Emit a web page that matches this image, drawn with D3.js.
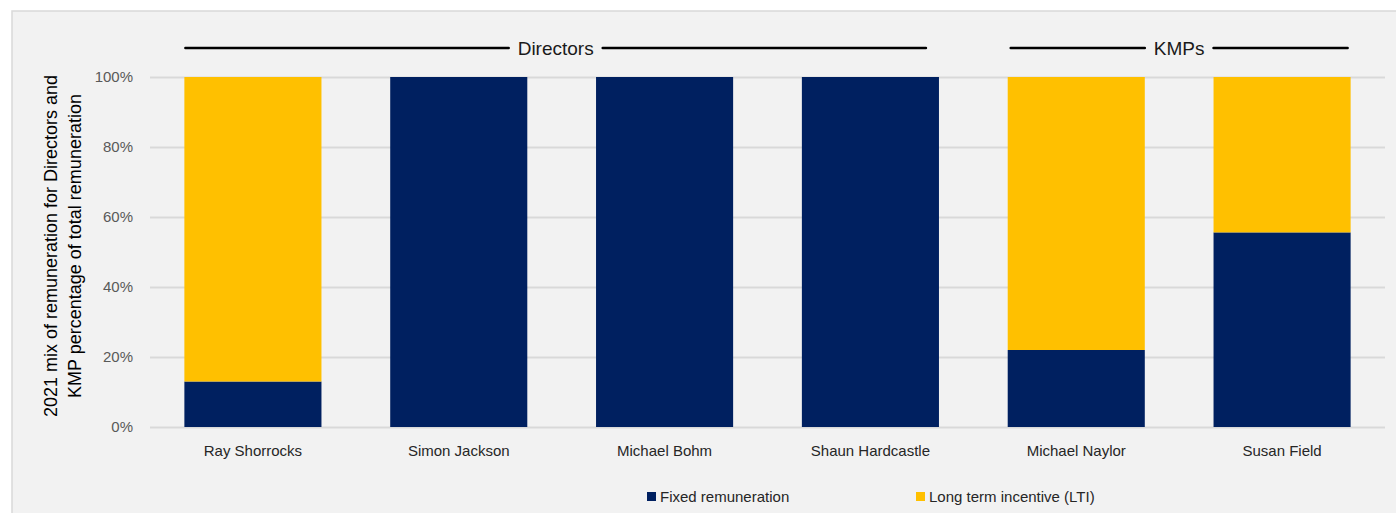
<!DOCTYPE html>
<head>
<meta charset="utf-8">
<script src="https://d3js.org/d3.v7.min.js"></script>
<style>
body { margin: 0; background: #ffffff; }
text { font-family: "Liberation Sans", Arial, sans-serif; }
.tick text { fill: #595959; font-size: 15px; }
.tick line { stroke: #d9d9d9; stroke-width: 2; }
path.domain { display: none; }
text.yTitle { font-size: 18px; fill: #000; }
text.group { font-size: 19px; fill: #1a1a1a; }
text.legend { font-size: 15px; fill: #262626; }
</style>
</head>
<body>
<script>
const width = 1396, height = 513;

const people = ["Ray Shorrocks", "Simon Jackson", "Michael Bohm", "Shaun Hardcastle", "Michael Naylor", "Susan Field"];
const fixedPct = [13, 100, 100, 100, 22, 55.6];
const ltiPct   = [87, 0, 0, 0, 78, 44.4];
const seriesNames = ["Fixed remuneration", "Long term incentive (LTI)"];
const colours = ["#002060", "#FFC000"];
const yTicks = [0, 20, 40, 60, 80, 100];
const groups = [
  {name: "Directors", from: "Ray Shorrocks", to: "Shaun Hardcastle"},
  {name: "KMPs", from: "Michael Naylor", to: "Susan Field"}
];

const svg = d3.select("body").append("svg")
  .attr("width", width)
  .attr("height", height);

// chart area background
svg.append("rect")
  .attr("x", 12).attr("y", 11)
  .attr("width", width - 10).attr("height", height)
  .attr("fill", "#f2f2f2")
  .attr("stroke", "#d9d9d9")
  .attr("stroke-width", 1.5);

const margin = {top: 77, right: 11, bottom: 86, left: 150};

const x = d3.scaleBand()
  .domain(people)
  .range([margin.left, width - margin.right])
  .paddingInner(0.334)
  .paddingOuter(0.167);

const y = d3.scaleLinear()
  .domain([0, 100])
  .range([height - margin.bottom, margin.top]);

svg.append("g")
  .attr("class", "axis yAxis")
  .attr("transform", `translate(${margin.left},0)`)
  .call(d3.axisLeft(y)
    .tickValues(yTicks)
    .tickSize(-(width - margin.right - margin.left))
    .tickPadding(17)
    .tickFormat(d => d + "%"));

const rows = people.map((p, i) => ({name: p, fixed: fixedPct[i], lti: ltiPct[i]}));
const stacked = d3.stack().keys(["fixed", "lti"])(rows);

svg.append("g").selectAll("g")
  .data(stacked)
  .join("g")
  .attr("fill", (d, i) => colours[i])
  .selectAll("rect")
  .data(d => d.filter(s => s[1] - s[0] > 0))
  .join("rect")
  .attr("x", d => x(d.data.name))
  .attr("width", x.bandwidth())
  .attr("y", d => y(d[1]))
  .attr("height", d => y(d[0]) - y(d[1]));

// category labels
svg.append("g").selectAll("text")
  .data(people)
  .join("text")
  .attr("x", d => x(d) + x.bandwidth() / 2)
  .attr("y", y(0) + 29)
  .attr("text-anchor", "middle")
  .attr("fill", "#262626")
  .style("font-size", "15px")
  .text(d => d);

// group brackets (hand-drawn in the original, so a bit inset)
const groupY = 48;
const insets = [[1, 13], [3, 3]];
groups.forEach((g, gi) => {
  const x0 = x(g.from) + insets[gi][0], x1 = x(g.to) + x.bandwidth() - insets[gi][1];
  const cx = (x0 + x1) / 2;
  const t = svg.append("text")
    .attr("class", "group")
    .attr("x", cx)
    .attr("y", groupY + 7)
    .attr("text-anchor", "middle")
    .text(g.name);
  const w = t.node().getComputedTextLength();
  const gap = 9;
  [[x0, cx - w / 2 - gap], [cx + w / 2 + gap, x1]].forEach(seg => {
    svg.append("line")
      .attr("x1", seg[0]).attr("x2", seg[1])
      .attr("y1", groupY).attr("y2", groupY)
      .attr("stroke", "#000")
      .attr("stroke-width", 2.5)
      .attr("stroke-linecap", "round");
  });
});

// y title
const yt = svg.append("text")
  .attr("class", "yTitle")
  .attr("transform", `translate(57, ${(y(0) + y(100)) / 2 - 6}) rotate(-90)`)
  .attr("text-anchor", "middle");
yt.append("tspan").attr("x", 0).attr("dy", 0).text("2021 mix of remuneration for Directors and");
yt.append("tspan").attr("x", 0).attr("dy", 24).text("KMP percentage of total remuneration");

// legend
const legendX = [647, 916];
seriesNames.forEach((s, i) => {
  svg.append("rect")
    .attr("x", legendX[i]).attr("y", 492)
    .attr("width", 9).attr("height", 9)
    .attr("fill", colours[i]);
  svg.append("text")
    .attr("class", "legend")
    .attr("x", legendX[i] + 13)
    .attr("y", 502)
    .text(s);
});
</script>
</body>
